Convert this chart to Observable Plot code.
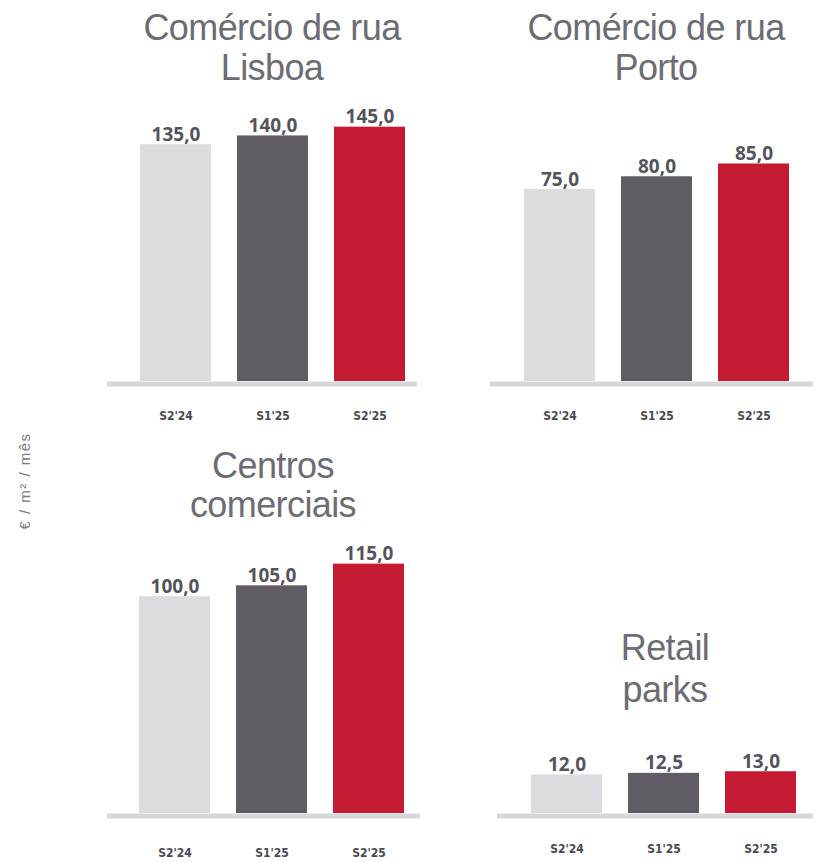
<!DOCTYPE html>
<html>
<head>
<meta charset="utf-8">
<script src="https://cdn.jsdelivr.net/npm/d3@7"></script>
<script src="https://cdn.jsdelivr.net/npm/@observablehq/plot@0.6"></script>
<style>
  body { margin: 0; background: #fff; }
  #wrap { position: relative; width: 813px; height: 862px; overflow: hidden; font-family: "Liberation Sans", Arial, sans-serif; background: #fff; }
  .title { position: absolute; width: 360px; text-align: center; font-size: 36px; color: #6c6c74; letter-spacing: -0.6px; white-space: nowrap; }
  .panel { position: absolute; }
  .panel svg { color: #4a4a52; }
  .panel svg g[aria-label="x-axis tick label"] text { font-family: "DejaVu Sans Condensed", "Liberation Sans Narrow", "Liberation Sans", sans-serif; font-weight: bold; }
  .ylab { position: absolute; left: -45px; top: 471px; width: 140px; height: 20px; line-height: 20px; text-align: center; font-size: 15px; letter-spacing: 1.5px; color: #7a7a80; transform: rotate(-90deg); white-space: nowrap; }
</style>
</head>
<body>
<div id="wrap"></div>
<script>
// ---- data ----
const periods = ["S2'24", "S1'25", "S2'25"];
const lisboa = [135.0, 140.0, 145.0];
const porto = [75.0, 80.0, 85.0];
const centros = [100.0, 105.0, 115.0];
const retail = [12.0, 12.5, 13.0];
const titleLisboa = ["Comércio de rua", "Lisboa"];
const titlePorto = ["Comércio de rua", "Porto"];
const titleCentros = ["Centros", "comerciais"];
const titleRetail = ["Retail", "parks"];
const yLabel = "€ / m² / mês";
const barColors = ["#dcdbe0", "#615c64", "#c51b32"];

// ---- layout ----
const panels = [
  { values: lisboa, title: titleLisboa, left: 107, top: 100, width: 310, height: 330, mb: 49, xRange: [33, 298], yMax: 160.2, tickPad: 30,
    tLeft: 272, tTop: 7.5, tLH: 40 },
  { values: porto, title: titlePorto, left: 490, top: 100, width: 323, height: 330, mb: 49, xRange: [33, 299], yMax: 109.8, tickPad: 30,
    tLeft: 656, tTop: 7.5, tLH: 40 },
  { values: centros, title: titleCentros, left: 107, top: 540, width: 313, height: 322, mb: 49, xRange: [31, 297], yMax: 125.9, tickPad: 35,
    tLeft: 273, tTop: 446, tLH: 39 },
  { values: retail, title: titleRetail, left: 497, top: 540, width: 316, height: 322, mb: 49, xRange: [33, 300], yMax: 85.0, tickPad: 31,
    tLeft: 665, tTop: 626.5, tLH: 42 }
];

const wrap = document.getElementById("wrap");
const fmt = v => v.toFixed(1).replace(".", ",");

for (const p of panels) {
  const data = periods.map((period, i) => ({ period, value: p.values[i] }));
  const chart = Plot.plot({
    width: p.width,
    height: p.height,
    marginTop: 0,
    marginBottom: p.mb,
    marginLeft: 0,
    marginRight: 0,
    style: { background: "transparent", overflow: "visible" },
    x: { domain: periods, range: p.xRange, paddingInner: 0.27, paddingOuter: 0 },
    y: { domain: [0, p.yMax], axis: null },
    color: { domain: periods, range: barColors },
    marks: [
      Plot.ruleY([0], { stroke: "#d7d7dc", strokeWidth: 5, dy: 2.5 }),
      Plot.barY(data, { x: "period", y: "value", fill: "period" }),
      Plot.text(data, { x: "period", y: "value", text: d => fmt(d.value), dy: -4, lineAnchor: "bottom",
        fontSize: 19, fontWeight: "bold", fill: "#54545c" }),
      Plot.axisX({ tickSize: 0, tickPadding: p.tickPad, fontSize: 12, label: null })
    ]
  });
  const div = document.createElement("div");
  div.className = "panel";
  div.style.left = p.left + "px";
  div.style.top = p.top + "px";
  div.appendChild(chart);
  wrap.appendChild(div);

  const t = document.createElement("div");
  t.className = "title";
  t.style.left = (p.tLeft - 180) + "px";
  t.style.top = p.tTop + "px";
  t.style.lineHeight = p.tLH + "px";
  t.innerHTML = p.title.join("<br>");
  wrap.appendChild(t);
}

const yl = document.createElement("div");
yl.className = "ylab";
yl.textContent = yLabel;
wrap.appendChild(yl);
</script>
</body>
</html>
